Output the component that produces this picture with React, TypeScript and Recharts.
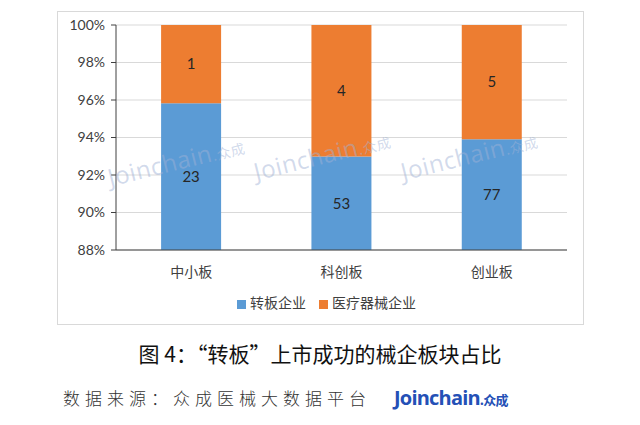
import { BarChart, Bar, XAxis, YAxis, CartesianGrid, Legend, LabelList } from "recharts";

const boards = ["中小板", "科创板", "创业板"];
const transferCounts = [23, 53, 77];
const deviceCounts = [1, 4, 5];
const yTicks = [0.88, 0.9, 0.92, 0.94, 0.96, 0.98, 1];

// shares are built from the counts; the labels show the counts
const data = boards.map((b, i) => {
  const total = transferCounts[i] + deviceCounts[i];
  return {
    name: b,
    s1: transferCounts[i] / total,
    s2: deviceCounts[i] / total,
    c1: transferCounts[i],
    c2: deviceCounts[i],
  };
});

const font = "Lato, 'Noto Sans CJK SC', sans-serif";
const cjk = "'Noto Sans CJK SC', sans-serif";

const marks = [
  { left: 107, top: 160 },
  { left: 253, top: 154 },
  { left: 400, top: 154 },
];

function Watermark({ left, top }: { left: number; top: number }) {
  return (
    <div
      style={{
        position: "absolute",
        left,
        top,
        transform: "rotate(-14deg)",
        transformOrigin: "left center",
        color: "rgba(160,178,214,0.48)",
        fontFamily: "'Open Sans', sans-serif",
        fontSize: 24,
        letterSpacing: 0.5,
        whiteSpace: "nowrap",
        pointerEvents: "none",
      }}
    >
      Joinchain<span style={{ fontSize: 14, fontFamily: cjk }}>.众成</span>
    </div>
  );
}

export default function App() {
  return (
    <div
      style={{
        position: "absolute",
        left: 0,
        top: 0,
        width: 640,
        height: 425,
        background: "#fff",
      }}
    >
      <div
        style={{
          position: "absolute",
          left: 57,
          top: 11,
          width: 525,
          height: 312,
          border: "1px solid #d9d9d9",
        }}
      >
        <BarChart
          width={525}
          height={312}
          data={data}
          barCategoryGap="30%"
          margin={{ top: 13, right: 16, left: 0, bottom: 24 }}
        >
          <CartesianGrid vertical={false} stroke="#d9d9d9" />
          <XAxis
            dataKey="name"
            tickLine={false}
            axisLine={{ stroke: "#404040" }}
            tickMargin={11}
            tick={{ fontSize: 14, fill: "#404040", fontFamily: cjk }}
          />
          <YAxis
            width={58}
            type="number"
            domain={[0.88, 1]}
            allowDataOverflow
            ticks={yTicks}
            tickFormatter={(v: number) => `${Math.round(v * 100)}%`}
            axisLine={{ stroke: "#404040" }}
            tickLine={{ stroke: "#404040" }}
            tickSize={5}
            tickMargin={6}
            tick={{ fontSize: 14, fill: "#404040", fontFamily: font }}
          />
          <Legend
            iconType="square"
            iconSize={9}
            itemSorter="dataKey"
            wrapperStyle={{ top: 280, left: 0, width: 550, fontSize: 14, fontFamily: cjk }}
            formatter={(v: string) => (
              <span style={{ color: "#404040", paddingRight: 3 }}>{v}</span>
            )}
          />
          <Bar dataKey="s1" name="转板企业" stackId="a" fill="#5B9BD5" isAnimationActive={false}>
            <LabelList
              dataKey="c1"
              position="center"
              style={{ fontSize: 15, fill: "#262626", fontFamily: font }}
            />
          </Bar>
          <Bar dataKey="s2" name="医疗器械企业" stackId="a" fill="#ED7D31" isAnimationActive={false}>
            <LabelList
              dataKey="c2"
              position="center"
              style={{ fontSize: 15, fill: "#262626", fontFamily: font }}
            />
          </Bar>
        </BarChart>
        {marks.map((m, i) => (
          <Watermark key={i} left={m.left - 57} top={m.top - 11} />
        ))}
      </div>
      <div
        style={{
          position: "absolute",
          left: 0,
          width: 640,
          top: 338,
          textAlign: "center",
          fontFamily: cjk,
          fontSize: 21,
          fontWeight: 400,
          color: "#111",
        }}
      >
        图 4：“转板”上市成功的械企板块占比
      </div>
      <div
        style={{
          position: "absolute",
          left: 63,
          top: 385,
          fontFamily: cjk,
          fontSize: 17,
          fontWeight: 300,
          letterSpacing: 5,
          color: "#333",
        }}
      >
        数据来源：众成医械大数据平台
      </div>
      <div
        style={{
          position: "absolute",
          left: 394,
          top: 384,
          fontFamily: "'Open Sans', sans-serif",
          fontSize: 20,
          fontWeight: 700,
          color: "#2450b6",
          letterSpacing: -0.8,
        }}
      >
        Joinchain<span style={{ fontSize: 13, fontFamily: cjk }}>.众成</span>
      </div>
    </div>
  );
}
